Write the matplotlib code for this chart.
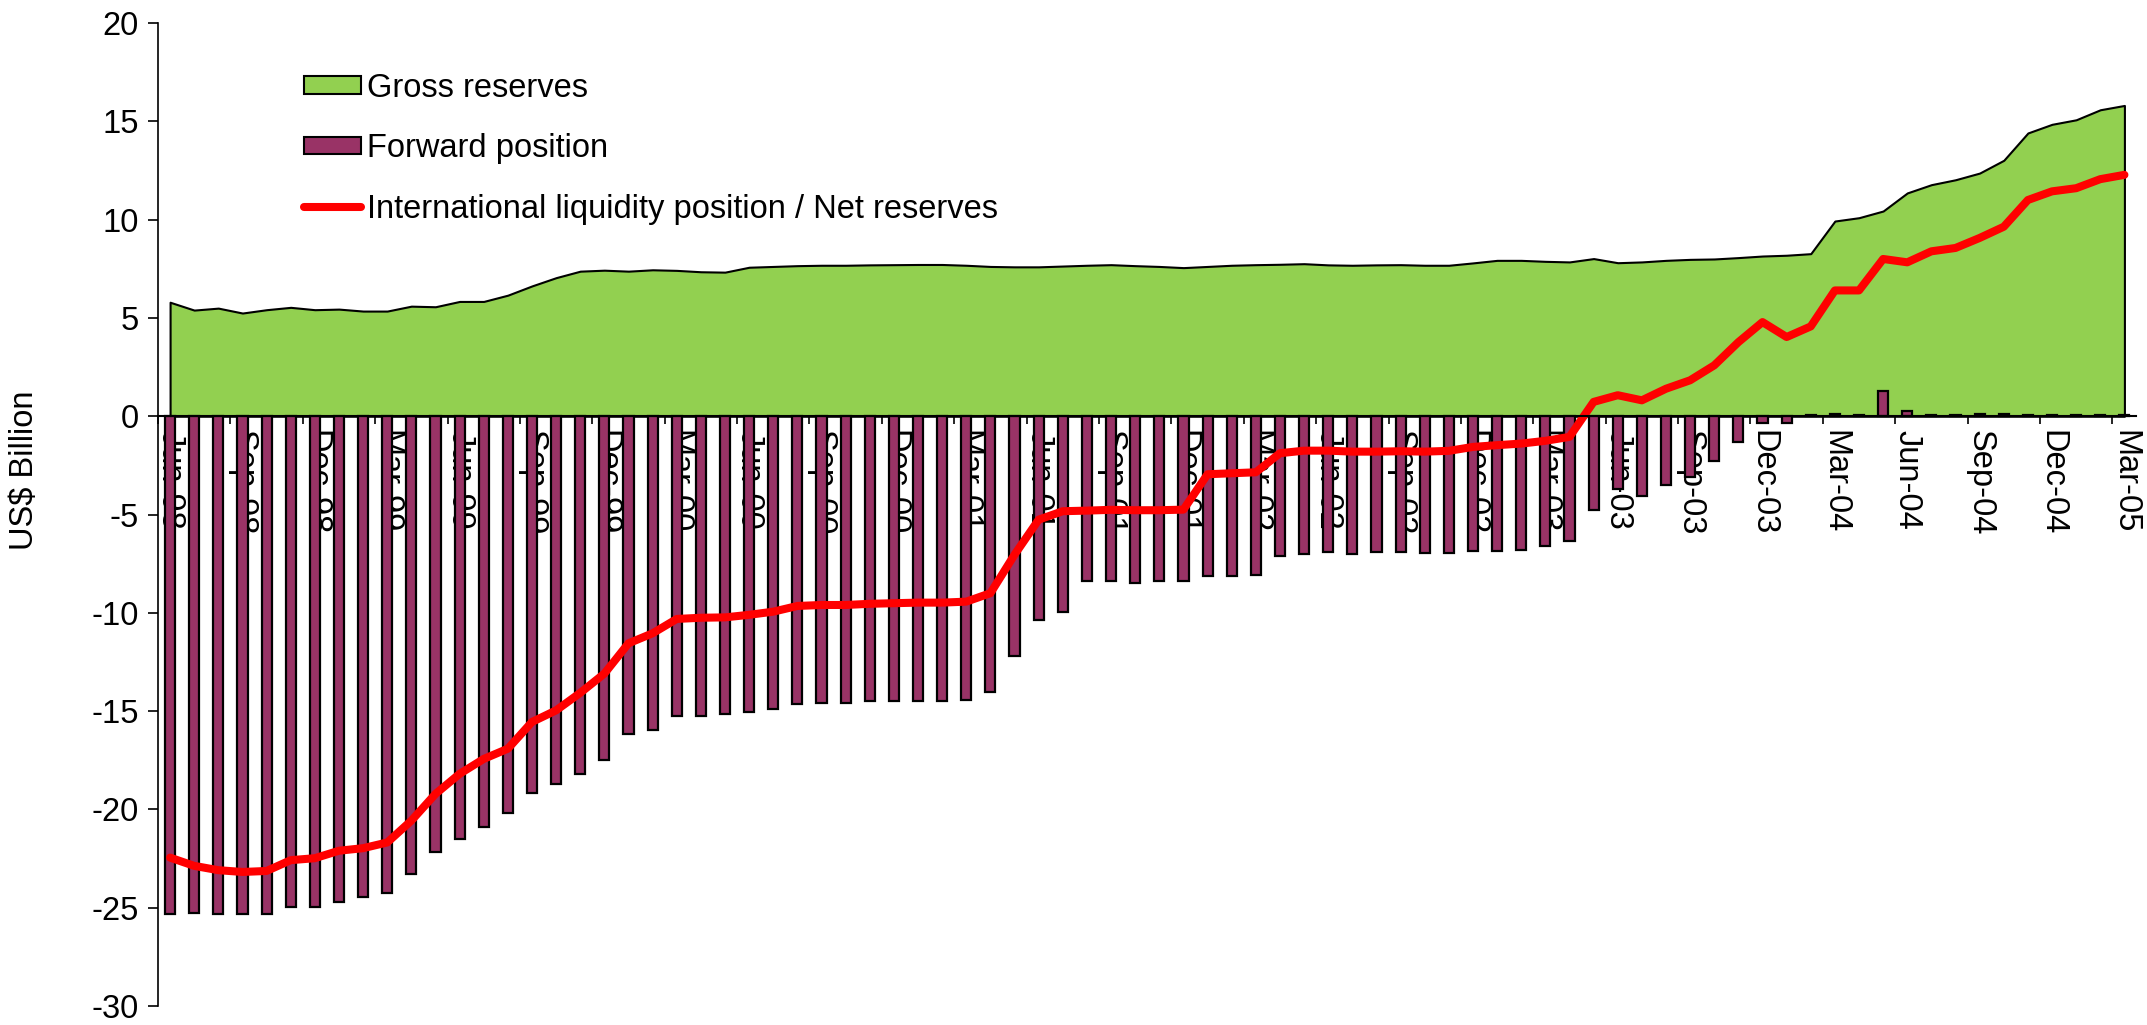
import numpy as np
import matplotlib
matplotlib.use("Agg")
import matplotlib.pyplot as plt
from matplotlib.patches import Patch
from matplotlib.lines import Line2D

plt.rcParams['font.family'] = ['Liberation Sans', 'DejaVu Sans']
plt.rcParams['axes.unicode_minus'] = False

# monthly data, Jun-98 .. Mar-05 (US$ billion)
months = ['Jun-98', 'Jul-98', 'Aug-98', 'Sep-98', 'Oct-98', 'Nov-98', 'Dec-98',
          'Jan-99', 'Feb-99', 'Mar-99', 'Apr-99', 'May-99', 'Jun-99', 'Jul-99', 'Aug-99',
          'Sep-99', 'Oct-99', 'Nov-99', 'Dec-99',
          'Jan-00', 'Feb-00', 'Mar-00', 'Apr-00', 'May-00', 'Jun-00', 'Jul-00', 'Aug-00',
          'Sep-00', 'Oct-00', 'Nov-00', 'Dec-00',
          'Jan-01', 'Feb-01', 'Mar-01', 'Apr-01', 'May-01', 'Jun-01', 'Jul-01', 'Aug-01',
          'Sep-01', 'Oct-01', 'Nov-01', 'Dec-01',
          'Jan-02', 'Feb-02', 'Mar-02', 'Apr-02', 'May-02', 'Jun-02', 'Jul-02', 'Aug-02',
          'Sep-02', 'Oct-02', 'Nov-02', 'Dec-02',
          'Jan-03', 'Feb-03', 'Mar-03', 'Apr-03', 'May-03', 'Jun-03', 'Jul-03', 'Aug-03',
          'Sep-03', 'Oct-03', 'Nov-03', 'Dec-03',
          'Jan-04', 'Feb-04', 'Mar-04', 'Apr-04', 'May-04', 'Jun-04', 'Jul-04', 'Aug-04',
          'Sep-04', 'Oct-04', 'Nov-04', 'Dec-04',
          'Jan-05', 'Feb-05', 'Mar-05']

gross = [5.80, 5.40, 5.50, 5.25, 5.42, 5.54, 5.42,
         5.45, 5.35, 5.35, 5.60, 5.57, 5.84, 5.84, 6.16, 6.63, 7.05, 7.38, 7.43,
         7.38, 7.45, 7.42, 7.35, 7.33, 7.58, 7.62, 7.66, 7.68, 7.68, 7.70, 7.71,
         7.72, 7.72, 7.68, 7.62, 7.60, 7.60, 7.64, 7.68, 7.71, 7.66, 7.62, 7.56,
         7.62, 7.68, 7.71, 7.73, 7.76, 7.70, 7.68, 7.70, 7.71, 7.68, 7.68, 7.80,
         7.93, 7.93, 7.88, 7.85, 8.02, 7.81, 7.85, 7.93, 7.98, 8.00, 8.07, 8.15,
         8.19, 8.27, 9.93, 10.10, 10.44, 11.36, 11.78, 12.03, 12.37, 13.02, 14.41, 14.85,
         15.08, 15.59, 15.81]

forward = [-25.34, -25.29, -25.34, -25.34, -25.34, -24.95, -24.95,
           -24.71, -24.46, -24.23, -23.30, -22.14, -21.51, -20.91, -20.18, -19.18, -18.70, -18.19, -17.48,
           -16.15, -15.98, -15.23, -15.23, -15.13, -15.04, -14.87, -14.65, -14.57, -14.57, -14.50, -14.50,
           -14.50, -14.50, -14.45, -14.02, -12.18, -10.36, -9.97, -8.40, -8.40, -8.49, -8.40, -8.40,
           -8.15, -8.15, -8.06, -7.09, -6.99, -6.91, -6.99, -6.91, -6.91, -6.95, -6.95, -6.86,
           -6.86, -6.80, -6.60, -6.32, -4.75, -3.70, -4.07, -3.50, -3.10, -2.30, -1.32, -0.33,
           -0.34, 0.08, 0.12, 0.08, 1.27, 0.27, 0.07, 0.07, 0.12, 0.12, 0.07, 0.07,
           0.07, 0.07, 0.05]

net = [-22.45, -22.87, -23.09, -23.18, -23.13, -22.58, -22.48,
       -22.10, -21.97, -21.68, -20.57, -19.21, -18.19, -17.43, -16.91, -15.55, -14.96, -14.07, -13.09,
       -11.55, -11.04, -10.31, -10.25, -10.23, -10.10, -9.94, -9.65, -9.60, -9.60, -9.54, -9.51,
       -9.48, -9.48, -9.43, -9.00, -7.04, -5.26, -4.83, -4.80, -4.76, -4.78, -4.78, -4.75,
       -2.95, -2.90, -2.85, -1.88, -1.75, -1.75, -1.80, -1.80, -1.78, -1.80, -1.76, -1.56,
       -1.47, -1.39, -1.25, -1.05, 0.73, 1.07, 0.81, 1.40, 1.83, 2.59, 3.77, 4.79,
       4.03, 4.57, 6.40, 6.40, 8.00, 7.83, 8.39, 8.56, 9.07, 9.64, 11.00, 11.44,
       11.60, 12.06, 12.28]

labels = ['Gross reserves', 'Forward position',
          'International liquidity position / Net reserves']

green = '#92D050'
plum = '#993366'
red = '#FF0000'
fs = 23.5

x = np.arange(len(months))

fig = plt.figure(figsize=(21.47, 10.25), dpi=100)
ax = fig.add_axes([0.0736, 0.0185, 0.9215, 0.959])

ax.fill_between(x, 0, gross, facecolor=green, edgecolor='black', linewidth=1.5, zorder=1)
ax.bar(x, forward, width=0.42, color=plum, edgecolor='black', linewidth=1.6, zorder=2)
ax.plot(x, net, color=red, linewidth=5.8, solid_joinstyle='round', solid_capstyle='round', zorder=3)

ax.set_xlim(-0.5, len(months) - 0.5)
ax.set_ylim(-30, 20)
ax.set_yticks(np.arange(-30, 21, 5))
ax.tick_params(axis='y', direction='out', length=7, width=1.2, labelsize=fs, pad=7)

ax.spines['top'].set_visible(False)
ax.spines['right'].set_visible(False)
ax.spines['bottom'].set_position(('data', 0))
ax.spines['left'].set_linewidth(1.2)
ax.spines['bottom'].set_linewidth(1.5)
ax.spines['bottom'].set_zorder(4)

ax.set_xticks(x[::3])
ax.set_xticklabels(months[::3], rotation=-90)
ax.set_xticks(x[::3] - 0.5, minor=True)
ax.tick_params(axis='x', which='major', length=0, labelsize=fs, pad=10)
ax.tick_params(axis='x', which='minor', direction='out', length=6, width=1.2)
for t in ax.get_xticklabels():
    t.set_va('top')
    t.set_ha('center')

fig.text(25 / 2147, 1 - 470 / 1025, 'US$ Billion', rotation=90,
         ha='center', va='center', fontsize=fs)

handles = [Patch(facecolor=green, edgecolor='black', linewidth=1.5),
           Patch(facecolor=plum, edgecolor='black', linewidth=1.5),
           Line2D([0], [0], color=red, linewidth=5.8, solid_capstyle='round')]
fig.legend(handles, labels, loc='upper left', bbox_to_anchor=(0.1416, 0.929),
           frameon=False, fontsize=fs, handlelength=1.75, handleheight=0.46,
           handletextpad=0.18, labelspacing=0.9, borderpad=0, borderaxespad=0)

fig.savefig('out.png', dpi=100)
